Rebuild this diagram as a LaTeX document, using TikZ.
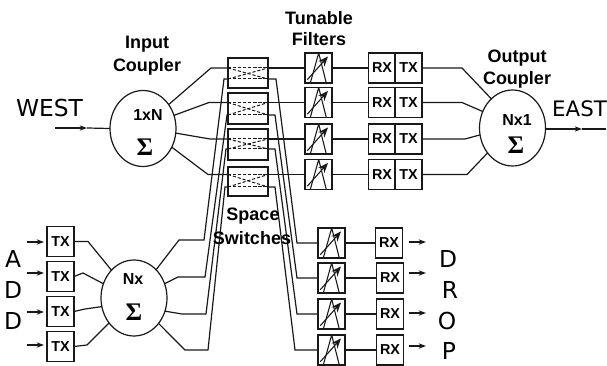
\documentclass[tikz,border=0pt]{standalone}
\usepackage{fontspec}
\setmainfont{Liberation Sans}
\newfontfamily\dvfont{DejaVu Sans}
\newfontfamily\sgfont{Liberation Serif}
\usetikzlibrary{arrows.meta,shapes.geometric}
\tikzset{
  wire/.style={line width=0.9pt,draw=black!90},
  arr/.style={wire,-{Stealth[length=5.5pt,width=4pt]}},
  swdash/.style={line width=0.75pt,draw=black!90,dash pattern=on 2.4pt off 1.4pt},
  plain/.style={draw=black!90,line width=0.95pt,inner sep=0pt,outer sep=0pt,minimum height=22.5pt},
  filt/.style={plain,minimum width=20.25pt,path picture={
    \draw[line width=0.8pt] ([shift={(5.3,30)}]path picture bounding box.north west)
      -- ([shift={(13.7,0)}]path picture bounding box.north west)
      -- ([shift={(21.3,30)}]path picture bounding box.north west);
    \draw[line width=0.8pt,-{Stealth[length=7.5pt,width=6pt]}] ([shift={(2.3,26.7)}]path picture bounding box.north west)
      -- ([shift={(23,3.5)}]path picture bounding box.north west);
  }},
  trx/.style={plain,minimum width=20pt,font=\fontsize{10.8}{12}\bfseries},
  swb/.style={plain,minimum width=30pt},
  coup/.style={ellipse,draw=black!90,line width=0.9pt,inner sep=0pt,outer sep=0pt,minimum width=49.5pt,minimum height=57pt},
  lab/.style={font=\fontsize{13.5}{15}\bfseries,inner sep=0pt},
  clab/.style={font=\fontsize{12}{14}\bfseries,inner sep=0pt},
  sg/.style={font=\fontsize{19}{20}\sgfont\bfseries,inner sep=0pt},
  big/.style={font=\fontsize{17.5}{20}\dvfont,inner sep=0pt},
  bigeast/.style={font=\fontsize{16}{20}\dvfont,inner sep=0pt},
}
\begin{document}
\begin{tikzpicture}[x=0.75pt,y=-0.75pt]
\useasboundingbox (0,0) rectangle (607,366);
% couplers
\node[coup] (in) at (143,128.5) {};
\node[coup] (out) at (512.5,128) {};
\node[coup] (mx) at (134,298) {};
\node[clab] (inl) at (148,115) {1xN};
\node[clab] (outl) at (517,120) {Nx1};
\node[clab] (mxl) at (133,279) {Nx};
\node[sg] (ins) at (145,147) {Σ};
\node[sg] (outs) at (516,145) {Σ};
\node[sg] (mxs) at (134,312) {Σ};
% space switches
\node[swb,minimum height=22.5pt] (s1) at (248,73) {};
\node[swb,minimum height=23.25pt] (s2) at (248,108.5) {};
\node[swb,minimum height=23.25pt] (s3) at (248,144.5) {};
\node[swb,minimum height=21.75pt] (s4) at (248,181.5) {};
% top row
\foreach \n/\y in {1/68,2/102.5,3/139,4/174.5}{
  \node[filt] (f\n) at (318.5,\y) {};
  \node[trx] (r\n) at (382,\y) {RX};
  \node[trx,minimum width=20.25pt] (t\n) at (408.5,\y) {TX};
  \draw[wire] (f\n.east) -- (r\n.west);
}
% drop row
\node[filt] (df1) at (331.5,243) {};
\node[filt] (df2) at (331.5,278) {};
\node[filt] (df3) at (331.5,314) {};
\node[filt] (df4) at (331.5,350) {};
\node[trx] (dr1) at (389,243) {RX};
\node[trx] (dr2) at (390,278) {RX};
\node[trx] (dr3) at (390,314) {RX};
\node[trx] (dr4) at (390,350) {RX};
\foreach \n in {1,2,3,4}{\draw[wire] (df\n.east) -- (dr\n.west);}
% add TX
\node[trx,minimum width=20.25pt] (a1) at (60.5,241.5) {TX};
\node[trx,minimum width=20.25pt] (a2) at (60.5,276.5) {TX};
\node[trx,minimum width=20.25pt] (a3) at (60.5,311.5) {TX};
\node[trx,minimum width=20.25pt] (a4) at (60.5,346.5) {TX};
% switch internals
\foreach \n/\a/\b in {1/68/79,2/102.5/115,3/139/149,4/174.5/187}{
  \draw[swdash] (s\n.west |- 0,\a) -- (s\n.east |- 0,\a);
  \draw[swdash] (s\n.west |- 0,\b) -- (s\n.east |- 0,\b);
  \draw[swdash] (s\n.west |- 0,\a) -- (s\n.east |- 0,\b);
  \draw[swdash] (s\n.west |- 0,\b) -- (s\n.east |- 0,\a);
  \draw[wire] (s\n.east |- 0,\a) -- (f\n.west);
}
% input coupler to switches
\draw[wire] (in.43) -- (211,68) -- (s1.west |- f1.west);
\draw[wire] (in.23) -- (209,102.5) -- (s2.west |- f2.west);
\draw[wire] (in.-8) -- (210,139) -- (s3.west |- f3.west);
\draw[wire] (in.-33) -- (208,174.5) -- (s4.west |- f4.west);
% mux to switches
\draw[wire] (mx.52.5) -- (179,240) -- (204,240) -- (224,79) -- (s1.west |- 0,79);
\draw[wire] (mx.25) -- (178,277) -- (205,277) -- (227,115) -- (s2.west |- 0,115);
\draw[wire] (mx.-23.6) -- (182,314) -- (206,314) -- (226,149) -- (s3.west |- 0,149);
\draw[wire] (mx.-46) -- (185,350) -- (208,350) -- (225,187) -- (s4.west |- 0,187);
% switches to drop
\draw[wire] (s1.east |- 0,79) -- (276,79) -- (297,243) -- (df1.west);
\draw[wire] (s2.east |- 0,115) -- (275,115) -- (297,278) -- (df2.west);
\draw[wire] (s3.east |- 0,149) -- (275,149) -- (297,314) -- (df3.west);
\draw[wire] (s4.east |- 0,187) -- (275,187) -- (295,350) -- (df4.west);
% TX to output coupler
\draw[wire] (t1.east) -- (462,68) -- (out.126.5);
\draw[wire] (t2.east) -- (462,102.5) -- (out.151.5);
\draw[wire] (t3.east) -- (465,139) -- (out.192.5);
\draw[wire] (t4.east) -- (467,174.5) -- (out.225.6);
% add TX to mux
\draw[wire] (a1.east) -- (88,241.5) -- (mx.129.4);
\draw[wire] (a2.east) -- (83,273) -- (mx.155);
\draw[wire] (a3.east) -- (85,309) -- (mx.195);
\draw[wire] (a4.east) -- (87,345) -- (mx.225);
% west / east lines
\coordinate (wst) at (55,128);
\coordinate (wmid) at (87,128);
\coordinate (emid) at (582,129);
\coordinate (eend) at (606,129);
\draw[arr] (wst) -- (wmid);
\draw[wire] (wmid) -- (in.west);
\draw[arr] (out.east |- emid) -- (emid);
\draw[wire] (emid) -- (eend);
% add arrows
\foreach \n/\y in {1/242,2/273,3/312,4/345}{
  \coordinate (aa\n) at (27,\y);
  \coordinate (ab\n) at (44,\y);
  \draw[arr] (aa\n) -- (ab\n);
}
\foreach \n/\y in {1/242,2/273,3/313,4/346}{
  \coordinate (da\n) at (409,\y);
  \coordinate (db\n) at (426,\y);
  \draw[arr] (da\n) -- (db\n);
}
% labels
\node[big] (west) at (49.5,108) {WEST};
\node[bigeast] (east) at (579.5,109) {EAST};
\node[lab] (l1) at (147,44) {Input};
\node[lab] (l2) at (147,67) {Coupler};
\node[lab] (l3) at (517,58) {Output};
\node[lab] (l4) at (517,80) {Coupler};
\node[lab] (l5) at (319,18) {Tunable};
\node[lab] (l6) at (319,39) {Filters};
\node[lab] (l7) at (253,216) {Space};
\node[lab] (l8) at (252,238) {Switches};
\node[big] (ad1) at (13,259) {A};
\node[big] (ad2) at (13,290) {D};
\node[big] (ad3) at (13,321) {D};
\node[big] (dp1) at (448,259) {D};
\node[big] (dp2) at (450,290) {R};
\node[big] (dp3) at (447,321) {O};
\node[big] (dp4) at (449,351) {P};
\end{tikzpicture}
\end{document}
